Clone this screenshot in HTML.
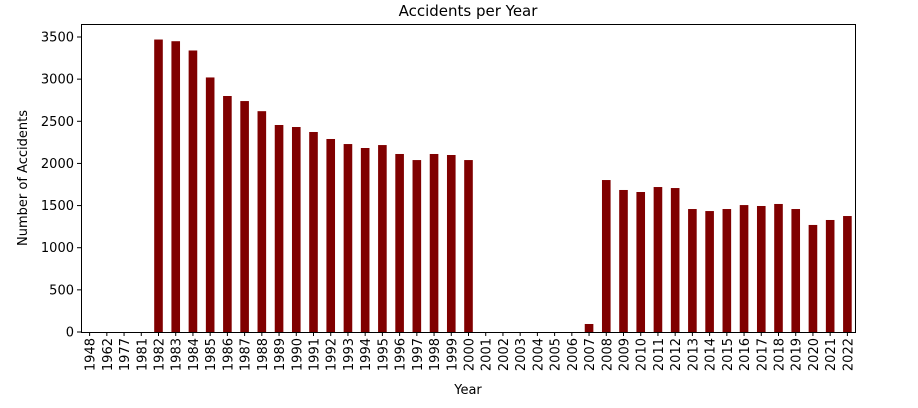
<!DOCTYPE html>
<html><head><meta charset="utf-8"><style>
body{margin:0;background:#fff;}
svg text{font-family:"DejaVu Sans","Liberation Sans",sans-serif;fill:#000;}
</style></head><body>
<svg id="chart" width="918" height="403" xmlns="http://www.w3.org/2000/svg">
<rect width="918" height="403" fill="#fff"/>
<text x="468" y="16" font-size="15" text-anchor="middle">Accidents per Year</text>
<text x="468" y="394" font-size="13" text-anchor="middle">Year</text>
<text transform="translate(27,178) rotate(-90)" font-size="13" text-anchor="middle">Number of Accidents</text>
<g id="bars"></g><g id="xt"></g><g id="yt"></g>
<rect x="81.5" y="24.5" width="774" height="308" fill="none" stroke="#000" stroke-width="1"/>
</svg>
<script>
const years=["1948","1962","1977","1981","1982","1983","1984","1985","1986","1987","1988","1989","1990","1991","1992","1993","1994","1995","1996","1997","1998","1999","2000","2001","2002","2003","2004","2005","2006","2007","2008","2009","2010","2011","2012","2013","2014","2015","2016","2017","2018","2019","2020","2021","2022"];
const counts=[0,0,0,0,3470,3450,3340,3020,2800,2740,2620,2456,2432,2373,2290,2230,2183,2218,2112,2040,2112,2100,2040,0,0,0,0,0,0,95,1803,1685,1661,1720,1708,1459,1435,1459,1506,1495,1519,1459,1270,1329,1376];
const yTicks=[0,500,1000,1500,2000,2500,3000,3500];
const NS="http://www.w3.org/2000/svg";
const x0=81,x1=856,y0=332,yTop=37;
const step=(x1-x0)/years.length;
const xs=i=>x0+step*(i+0.5);
const ys=v=>y0-(v/3500)*(y0-yTop);
const bars=document.getElementById('bars'),xt=document.getElementById('xt'),yt=document.getElementById('yt');
function mk(t,a){const e=document.createElementNS(NS,t);for(const k in a)e.setAttribute(k,a[k]);return e;}
years.forEach((y,i)=>{
  const c=xs(i),w=step*0.5;
  const r=mk('rect',{x:c-w/2,y:ys(counts[i]),width:w,height:y0-ys(counts[i]),fill:'#800000'});
  
  
  bars.appendChild(r);
  const tk=mk('line',{x1:c,x2:c,y1:y0,y2:y0+4,stroke:'#000'});
  
  
  xt.appendChild(tk);
  const t=mk('text',{transform:`translate(${c+5},${y0+6}) rotate(-90)`,'font-size':'13','text-anchor':'end'});
  t.textContent=y;
  
  
  xt.appendChild(t);
});
yTicks.forEach(v=>{
  const y=ys(v);
  const tk=mk('line',{x1:x0-4,x2:x0,y1:y,y2:y,stroke:'#000'});
  
  
  yt.appendChild(tk);
  const t=mk('text',{x:x0-7,y:y+4.5,'font-size':'13','text-anchor':'end'});
  t.textContent=v;
  
  
  yt.appendChild(t);
});
</script>
</body></html>
